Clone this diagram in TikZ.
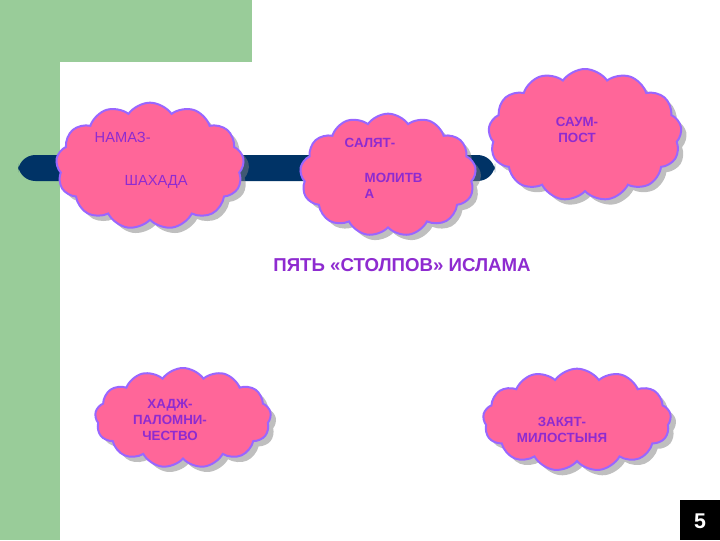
\documentclass[tikz,border=0pt]{standalone}
\usepackage{fontspec}
\setmainfont{Liberation Sans}
\usetikzlibrary{shapes.symbols,shadows}
\definecolor{grn}{HTML}{99CC99}
\definecolor{navy}{HTML}{003366}
\definecolor{pinkc}{HTML}{FF6699}
\definecolor{vio}{HTML}{9966FF}
\definecolor{txt}{HTML}{8E2BD0}
\begin{document}
\begin{tikzpicture}[x=0.75pt,y=-0.75pt,
  cl/.style={cloud,cloud puffs=13,cloud puff arc=110,aspect=1.5,fill=pinkc,draw=vio,line width=1.5pt,
    drop shadow={shadow xshift=4pt,shadow yshift=-4pt,fill=gray},inner sep=0pt},
  lab/.style={text=txt,font=\fontsize{11}{13}\selectfont},
  blab/.style={text=txt,font=\bfseries\fontsize{10}{12}\selectfont,align=center}]
\useasboundingbox (0,0) rectangle (720,540);
\fill[grn] (0,0) rectangle (252,62);
\fill[grn] (0,0) rectangle (60,540);
\fill[white,rounded corners=20] (60,62) rectangle (800,620);
\fill[navy,rounded corners=13] (18,155) rectangle (495,181);
\node[cl,minimum width=141,minimum height=95] (c1) at (150,166) {};
\node[cl,minimum width=132,minimum height=92] (c2) at (388,175) {};
\node[cl,minimum width=145,minimum height=99] (c3) at (585,135) {};
\node[cl,minimum width=132,minimum height=75] (c4) at (183,418) {};
\node[cl,minimum width=141,minimum height=77] (c5) at (577,420) {};
\node[lab,anchor=west] (t1) at (90,137) {НАМАЗ-};
\node[lab,anchor=west] (t2) at (120,182) {ШАХАДА};
\node[blab,anchor=west] (t3) at (340,143) {САЛЯТ-};
\node[blab,anchor=west,align=left] (t4) at (360,186) {МОЛИТВ\\А};
\node[blab] (t5) at (577,130) {САУМ-\\ПОСТ};
\node[blab] (t6) at (170,420) {ХАДЖ-\\ПАЛОМНИ-\\ЧЕСТВО};
\node[blab] (t7) at (562,430) {ЗАКЯТ-\\МИЛОСТЫНЯ};
\node[text=txt,font=\bfseries\fontsize{14}{16}\selectfont] (ti) at (402,265) {ПЯТЬ «СТОЛПОВ» ИСЛАМА};
\fill[black] (680,500) rectangle (720,540);
\node[text=white,font=\bfseries\fontsize{16}{18}\selectfont] (n5) at (700,521) {5};
\end{tikzpicture}
\end{document}
